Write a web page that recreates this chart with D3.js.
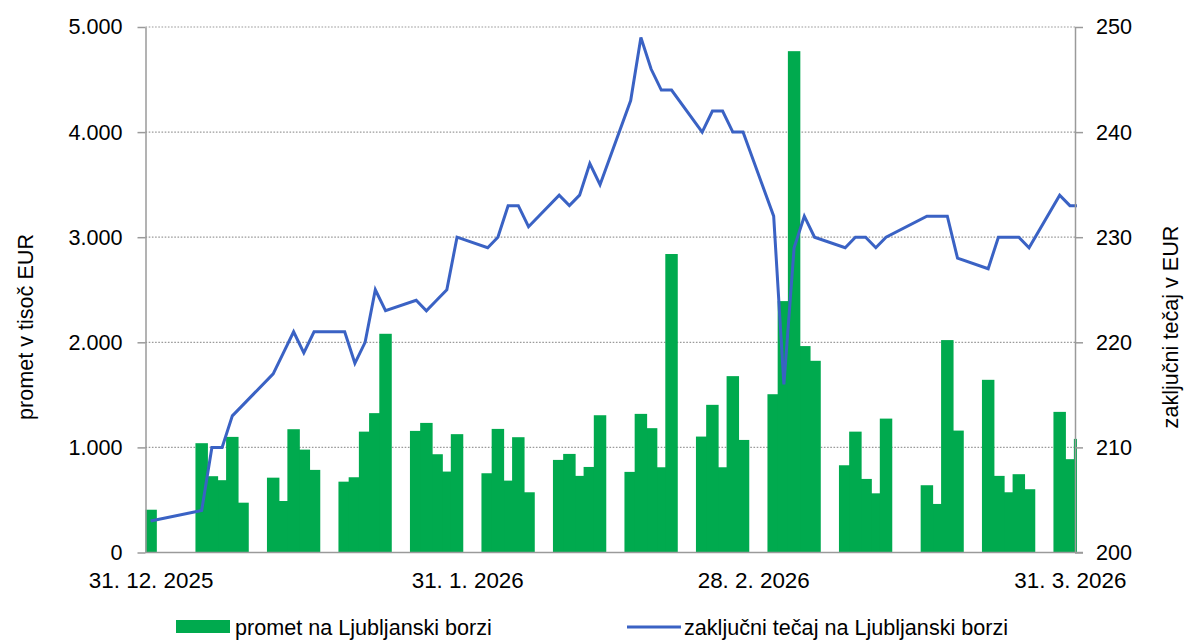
<!DOCTYPE html>
<html>
<head>
<meta charset="utf-8">
<script src="https://cdn.jsdelivr.net/npm/d3@7"></script>
<style>
  body { margin: 0; background: #fff; }
  svg text { font-family: "Liberation Sans", Arial, sans-serif; fill: #000; }
</style>
</head>
<body>
<svg id="chart" width="1187" height="640"></svg>
<script>
// trading days (Mar 16 has no data)
var days = [
  "2025-12-31",
  "2026-01-05","2026-01-06","2026-01-07","2026-01-08","2026-01-09",
  "2026-01-12","2026-01-13","2026-01-14","2026-01-15","2026-01-16",
  "2026-01-19","2026-01-20","2026-01-21","2026-01-22","2026-01-23",
  "2026-01-26","2026-01-27","2026-01-28","2026-01-29","2026-01-30",
  "2026-02-02","2026-02-03","2026-02-04","2026-02-05","2026-02-06",
  "2026-02-09","2026-02-10","2026-02-11","2026-02-12","2026-02-13",
  "2026-02-16","2026-02-17","2026-02-18","2026-02-19","2026-02-20",
  "2026-02-23","2026-02-24","2026-02-25","2026-02-26","2026-02-27",
  "2026-03-02","2026-03-03","2026-03-04","2026-03-05","2026-03-06",
  "2026-03-09","2026-03-10","2026-03-11","2026-03-12","2026-03-13",
  "2026-03-17","2026-03-18","2026-03-19","2026-03-20",
  "2026-03-23","2026-03-24","2026-03-25","2026-03-26","2026-03-27",
  "2026-03-30","2026-03-31","2026-04-01"
];

// promet v tisoc EUR
var turnover = [
  407,
  1040, 726, 688, 1100, 474,
  712, 490, 1173, 979, 786,
  674, 716, 1150, 1326, 2081,
  1157, 1233, 935, 770, 1126,
  754, 1176, 684, 1097, 573,
  881, 938, 729, 814, 1306,
  767, 1319, 1183, 811, 2840,
  1103, 1405, 811, 1678, 1071,
  1506, 2392, 4770, 1964, 1824,
  830, 1150, 700, 563, 1274,
  640, 462, 2021, 1160,
  1643, 729, 573, 745, 602,
  1338, 888, 1081
];

// zakljucni tecaj v EUR
var price = [
  203,
  204, 210, 210, 213, 214,
  217, 219, 221, 219, 221,
  221, 218, 220, 225, 223,
  224, 223, 224, 225, 230,
  229, 230, 233, 233, 231,
  234, 233, 234, 237, 235,
  243, 249, 246, 244, 244,
  240, 242, 242, 240, 240,
  232, 216, 229, 232, 230,
  229, 230, 230, 229, 230,
  232, 232, 232, 228,
  227, 230, 230, 230, 229,
  234, 233, 233
];

var leftTicks = [0, 1000, 2000, 3000, 4000, 5000];
var rightTicks = [200, 210, 220, 230, 240, 250];
var dateTicks = ["2025-12-31", "2026-01-31", "2026-02-28", "2026-03-31"];

var seriesNames = ["promet na Ljubljanski borzi", "zaključni tečaj na Ljubljanski borzi"];
var leftTitle = "promet v tisoč EUR";
var rightTitle = "zaključni tečaj v EUR";

var green = "#00aa4e",
    blue = "#3a62c4",
    gray = "#9a9a9a";

var parseDay = d3.timeParse("%Y-%m-%d");
var noon = function(s) { return d3.timeHour.offset(parseDay(s), 12); };

var plotLeft = 145.5, plotRight = 1075, plotTop = 27, plotBottom = 552.5;

var x = d3.scaleTime()
    .domain([parseDay("2025-12-31"), parseDay("2026-04-01")])
    .range([plotLeft, plotRight]);
var yL = d3.scaleLinear().domain([0, 5000]).range([plotBottom, plotTop]);
var yR = d3.scaleLinear().domain([200, 250]).range([plotBottom, plotTop]);

var dayWidth = x(parseDay("2026-01-02")) - x(parseDay("2026-01-01"));
var barWidth = dayWidth * 1.22;

var locale = d3.formatLocale({decimal: ",", thousands: ".", grouping: [3], currency: ["", " €"]});
var fmtThousands = locale.format(",.0f");
var fmtDate = d3.timeFormat("%-d. %-m. %Y");

var data = days.map(function(d, i) {
  return {date: noon(d), turnover: turnover[i], price: price[i]};
});

var svg = d3.select("#chart");

svg.append("defs").append("clipPath")
    .attr("id", "plotClip")
  .append("rect")
    .attr("x", plotLeft)
    .attr("y", 0)
    .attr("width", plotRight - plotLeft + 2)
    .attr("height", plotBottom + 2);

// gridlines
svg.append("g")
    .selectAll("line")
    .data(leftTicks.slice(1))
    .enter().append("line")
    .attr("x1", plotLeft)
    .attr("x2", plotRight)
    .attr("y1", function(d) { return yL(d); })
    .attr("y2", function(d) { return yL(d); })
    .attr("stroke", gray)
    .attr("stroke-width", 1.2)
    .attr("stroke-dasharray", "1.6,1.6");

// bars, taller ones drawn on top like in the original
var bars = data.slice().sort(function(a, b) { return a.turnover - b.turnover; });
svg.append("g")
    .attr("clip-path", "url(#plotClip)")
    .selectAll("rect")
    .data(bars)
    .enter().append("rect")
    .attr("x", function(d) { return x(d.date) - barWidth / 2; })
    .attr("y", function(d) { return yL(d.turnover); })
    .attr("width", barWidth)
    .attr("height", function(d) { return yL(0) - yL(d.turnover); })
    .attr("fill", green);

// price line
var line = d3.line()
    .x(function(d) { return x(d.date); })
    .y(function(d) { return yR(d.price); });

svg.append("path")
    .datum(data)
    .attr("clip-path", "url(#plotClip)")
    .attr("d", line)
    .attr("fill", "none")
    .attr("stroke", blue)
    .attr("stroke-width", 3)
    .attr("stroke-linejoin", "miter");

// axes
function styleAxis(g) {
  g.selectAll(".domain").attr("stroke", gray).attr("stroke-width", 1.5);
  g.selectAll(".tick line").attr("stroke", gray).attr("stroke-width", 1.5);
  g.selectAll(".tick text").style("font-size", "21.6px").attr("fill", "#000");
}

svg.append("g")
    .attr("transform", "translate(" + plotLeft + ",0)")
    .call(d3.axisLeft(yL).tickValues(leftTicks).tickFormat(fmtThousands).tickSizeInner(8).tickSizeOuter(0).tickPadding(15))
    .call(styleAxis);

svg.append("g")
    .attr("transform", "translate(" + plotRight + ",0)")
    .call(d3.axisRight(yR).tickValues(rightTicks).tickSizeInner(8).tickSizeOuter(0).tickPadding(13))
    .call(styleAxis);

svg.append("g")
    .attr("transform", "translate(0," + plotBottom + ")")
    .call(d3.axisBottom(x).tickValues(dateTicks.map(noon)).tickFormat(fmtDate).tickSize(0).tickPadding(20))
    .call(styleAxis)
    .call(function(g) {
      g.select(".domain").attr("d", "M" + plotLeft + ",0H" + (plotRight + 8));
      g.selectAll(".tick text").style("font-size", "22.4px");
    });

// axis titles
svg.append("text")
    .attr("transform", "translate(33,327) rotate(-90)")
    .attr("text-anchor", "middle")
    .style("font-size", "21.6px")
    .text(leftTitle);

svg.append("text")
    .attr("transform", "translate(1178,327) rotate(-90)")
    .attr("text-anchor", "middle")
    .style("font-size", "21.6px")
    .text(rightTitle);

// legend
var legend = svg.append("g");
legend.append("rect")
    .attr("x", 176).attr("y", 620)
    .attr("width", 54).attr("height", 13)
    .attr("fill", green);
legend.append("text")
    .attr("x", 235).attr("y", 635)
    .style("font-size", "21.6px")
    .text(seriesNames[0]);
legend.append("line")
    .attr("x1", 627).attr("x2", 681)
    .attr("y1", 627).attr("y2", 627)
    .attr("stroke", blue)
    .attr("stroke-width", 3);
legend.append("text")
    .attr("x", 684).attr("y", 635)
    .style("font-size", "21.6px")
    .text(seriesNames[1]);
</script>
</body>
</html>
